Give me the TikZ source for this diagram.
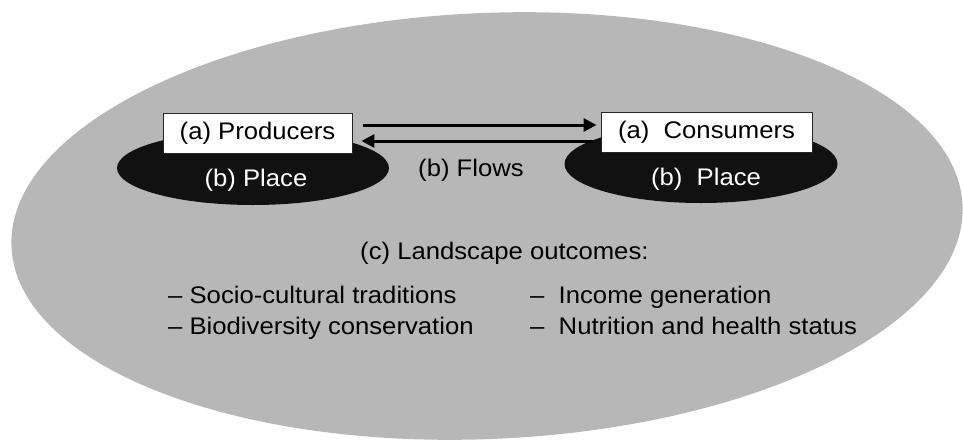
\documentclass[tikz,border=0pt]{standalone}
\usepackage{fontspec}
\setmainfont{Liberation Sans}
\usepackage{graphicx}
\usetikzlibrary{arrows.meta,calc,shapes.geometric}
\definecolor{bggray}{RGB}{182,183,182}
\definecolor{placeblack}{RGB}{17,17,17}
\newcommand\hx[1]{\scalebox{1.07}[1]{#1}}
\tikzset{
  txt/.style={font=\fontsize{24}{28}\selectfont, inner sep=0pt, text=black},
  boxnode/.style={draw=black!85, line width=0.9pt, fill=white, minimum height=40pt, inner sep=0pt, font=\fontsize{24}{28}\selectfont},
  placeell/.style={ellipse, fill=placeblack, inner sep=0pt},
  flowarr/.style={line width=3pt, -{Triangle[length=13pt,width=13pt]}},
}
\begin{document}
\begin{tikzpicture}[x=1pt,y=-1pt]
\useasboundingbox (0,0) rectangle (963,439);
% landscape
\fill[bggray, rotate around={2.5:(487,226)}] (487,226) ellipse [x radius=476, y radius=213];
% places
\node[placeell, minimum width=272pt, minimum height=74pt] (pl1) at (253,168) {};
\node[placeell, minimum width=273pt, minimum height=78pt] (pl2) at (701,164) {};
\node[txt, text=white, anchor=base] (pt1) at (256,186) {\hx{(b) Place}};
\node[txt, text=white, anchor=base] (pt2) at (706,185) {\hx{(b)\ \ Place}};
% actors
\node[boxnode, minimum width=189pt] (prod) at (257.5,133) {\hx{(a) Producers}};
\node[boxnode, minimum width=211pt] (cons) at (706.5,132) {\hx{(a)\ \ Consumers}};
% flows
\draw[flowarr, shorten <=11pt, shorten >=4pt] ([yshift=8pt]prod.east) -- ([yshift=7pt]cons.west);
\draw[flowarr, shorten <=8pt, shorten >=9pt] ([yshift=-9pt]cons.west) -- ([yshift=-8pt]prod.east);
\node[txt, anchor=base] (flows) at (471,176) {\hx{(b) Flows}};
% outcomes
\node[txt, anchor=base west] (out) at (360,259) {\hx{(c) Landscape outcomes:}};
\node[txt, anchor=base west] (o1) at (168,303) {\hx{– Socio-cultural traditions}};
\node[txt, anchor=base west] (o2) at (168,334) {\hx{– Biodiversity conservation}};
\node[txt, anchor=base west] (o3) at (530,303) {\hx{–\ \ Income generation}};
\node[txt, anchor=base west] (o4) at (530,334) {\hx{–\ \ Nutrition and health status}};
\end{tikzpicture}
\end{document}
